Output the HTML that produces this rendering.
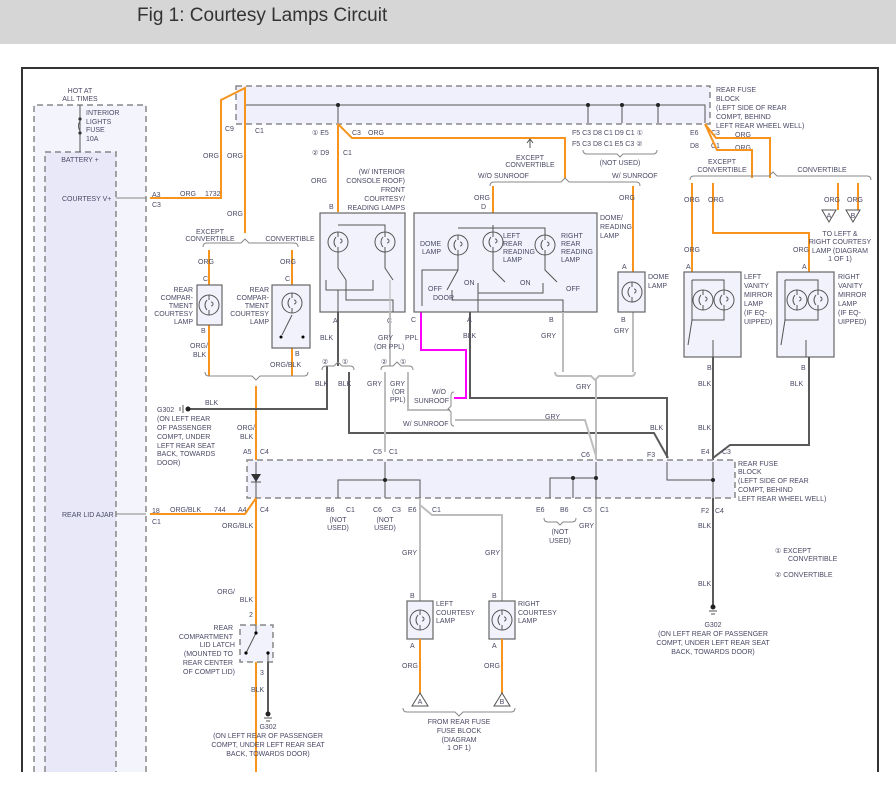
<!DOCTYPE html>
<html><head><style>
body{margin:0;width:896px;height:803px;background:#fff;overflow:hidden;font-family:"Liberation Sans",sans-serif}
#hd{position:absolute;left:0;top:0;width:896px;height:44px;background:#d6d6d6}
#hd span{position:absolute;left:137px;top:5px;font-size:19px;color:#333}
svg{position:absolute;left:0;top:0}
text{font-family:"Liberation Sans",sans-serif;font-size:7px;fill:#4a4a66}
.o{stroke:#f7941d;stroke-width:2;fill:none}
.g{stroke:#bdbdbd;stroke-width:2;fill:none}
.k{stroke:#5a5a5a;stroke-width:2;fill:none}
.m{stroke:#ff00ff;stroke-width:2;fill:none}
.t{stroke:#555;stroke-width:1;fill:none}
.b{stroke:#888;stroke-width:1;fill:none}
.d{stroke:#888;stroke-width:1.5;stroke-dasharray:6,4}
.bx{fill:#f2f2fc;stroke:#666;stroke-width:1.2}
.r{text-anchor:end}.c{text-anchor:middle}
</style></head><body>
<div id="hd"><span>Fig 1: Courtesy Lamps Circuit</span></div>
<svg width="896" height="803" viewBox="0 0 896 803">
<defs>
<g id="lamp"><circle r="10" fill="none" stroke="#555" stroke-width="1"/><path d="M0,-10 v5 M0,10 v-5 M-2,-5 q-4,5 0,10 M2,-3 a2,2 0 1,1 0,4" stroke="#555" fill="none" stroke-width="1"/></g>
</defs>
<!-- frame -->
<path d="M22,772 V68 H878 V772" fill="none" stroke="#333" stroke-width="2"/>
<!-- battery boxes -->
<rect x="34" y="105" width="112" height="667" fill="#f4f4fd"/>
<path d="M34,772 V105 H146 V772" fill="none" class="d"/>
<rect x="45" y="152" width="71" height="620" fill="#e8e8f8"/>
<path d="M45,772 V152 H116 V772" fill="none" class="d"/>
<text x="80" y="93" class="c">HOT AT</text><text x="80" y="101" class="c">ALL TIMES</text>
<path d="M80,105 V152" class="t"/><circle cx="80" cy="119" r="1.6" fill="#333"/><circle cx="80" cy="133" r="1.6" fill="#333"/>
<path d="M80,121 q-3,5 0,10" class="t"/>
<text x="86" y="115">INTERIOR</text><text x="86" y="124">LIGHTS</text><text x="86" y="132">FUSE</text><text x="86" y="141">10A</text>
<text x="80" y="162" class="c">BATTERY +</text>
<text x="62" y="201">COURTESY V+</text><path d="M116,198 H146" class="b"/>
<text x="62" y="517">REAR LID AJAR</text><path d="M116,514 H146" class="b"/>
<text x="152" y="197">A3</text><text x="152" y="207">C3</text>
<text x="152" y="513">18</text><text x="152" y="524">C1</text>
<!-- top fuse block -->
<rect x="236" y="86" width="474" height="38" fill="#f0f0fc" class="d"/>
<path d="M245,123 V105 H705 V123 M338,105 V123 M588,105V123 M622,105V123 M658,105V123" class="t"/>
<g fill="#222"><circle cx="338" cy="105" r="2"/><circle cx="588" cy="105" r="2"/><circle cx="622" cy="105" r="2"/><circle cx="658" cy="105" r="2"/></g>
<text x="716" y="92">REAR FUSE</text><text x="716" y="101">BLOCK</text><text x="716" y="110">(LEFT SIDE OF REAR</text><text x="716" y="119">COMPT, BEHIND</text><text x="716" y="128">LEFT REAR WHEEL WELL)</text>
<text x="225" y="131">C9</text><text x="255" y="133">C1</text>
<text x="312" y="135">① E5</text><text x="352" y="135">C3</text><text x="368" y="135">ORG</text>
<text x="312" y="155">② D9</text><text x="343" y="155">C1</text>
<text x="572" y="135">F5  C3  D8  C1  D9  C1 ①</text><text x="572" y="146">F5  C3  D8  C1  E5  C3 ②</text>
<text x="620" y="165" class="c">(NOT USED)</text>
<path d="M583,150 q0,4 4,4 h30 l3,3 3,-3 h30 q4,0 4,-4" class="b"/>
<text x="690" y="135">E6</text><text x="711" y="135">C3</text><text x="735" y="137">ORG</text>
<text x="690" y="148">D8</text><text x="711" y="148">C1</text><text x="735" y="150">ORG</text>
<!-- left orange -->
<path d="M150,198 H221 V100 L245,88 V233" class="o"/>
<path d="M245,124 V233" class="o"/>
<text x="180" y="196">ORG</text><text x="205" y="196">1732</text>
<text x="203" y="158">ORG</text><text x="227" y="158">ORG</text><text x="227" y="216">ORG</text>
<path d="M203,247 q0,-4 4,-4 h34 l4,-4 4,4 h45 q4,0 4,4" class="b"/>
<text x="210" y="234" class="c">EXCEPT</text><text x="210" y="241" class="c">CONVERTIBLE</text><text x="290" y="241" class="c">CONVERTIBLE</text>
<path d="M209,250 V285 M292,250 V285 M209,325 V376 M292,348 V376" class="o"/>
<text x="198" y="264">ORG</text><text x="280" y="264">ORG</text>
<text x="203" y="281">C</text><text x="285" y="281">C</text><text x="201" y="333">B</text><text x="295" y="356">B</text>
<rect x="197" y="285" width="25" height="40" class="bx"/><use href="#lamp" x="209" y="305"/>
<rect x="272" y="285" width="38" height="63" class="bx"/><use href="#lamp" x="292" y="303"/>
<path d="M292,315 l-10,20" class="t"/><circle cx="281" cy="337" r="1.5"/><circle cx="303" cy="337" r="1.5"/>
<g class="r"><text x="193" y="292">REAR</text><text x="193" y="300">COMPAR-</text><text x="193" y="308">TMENT</text><text x="193" y="316">COURTESY</text><text x="193" y="324">LAMP</text>
<text x="269" y="292">REAR</text><text x="269" y="300">COMPAR-</text><text x="269" y="308">TMENT</text><text x="269" y="316">COURTESY</text><text x="269" y="324">LAMP</text></g>
<text x="190" y="348">ORG/</text><text x="193" y="357">BLK</text><text x="270" y="367">ORG/BLK</text>
<path d="M205,372 q0,4 4,4 h43 l4,4 4,-4 h44 q4,0 4,-4" class="b"/>
<path d="M256,386 V772" class="o"/>
<text x="237" y="430">ORG/</text><text x="240" y="439">BLK</text>
<!-- G302 left -->
<path d="M327,366 V409 H190" class="k"/><circle cx="188" cy="409" r="2.5" fill="#222"/><path d="M183,405 v8 M180,407 v4" class="t"/>
<text x="205" y="405">BLK</text>
<text x="157" y="412">G302</text><text x="157" y="421">(ON LEFT REAR</text><text x="157" y="430">OF PASSENGER</text><text x="157" y="439">COMPT, UNDER</text><text x="157" y="448">LEFT REAR SEAT</text><text x="157" y="456">BACK, TOWARDS</text><text x="157" y="465">DOOR)</text>
<!-- front lamps -->
<path d="M338,124 L352,138 H565 V178" class="o"/><path d="M338,124 V212" class="o"/>
<path d="M530,148 V140" class="t"/><path d="M527,143 l3,-4 3,4" class="t"/>
<text x="530" y="160" class="c">EXCEPT</text><text x="530" y="167" class="c">CONVERTIBLE</text>
<text x="327" y="183" class="r">ORG</text>
<g class="r"><text x="405" y="174">(W/ INTERIOR</text><text x="405" y="183">CONSOLE ROOF)</text><text x="405" y="192">FRONT</text><text x="405" y="201">COURTESY/</text><text x="405" y="210">READING LAMPS</text></g>
<text x="329" y="209">B</text>
<rect x="320" y="213" width="85" height="99" class="bx"/>
<use href="#lamp" x="338" y="242"/><use href="#lamp" x="385" y="242"/>
<path d="M338,225 H385 V232 M338,252 V268 L346,280 M385,252 V268 L393,280 M326,280 V290 H373 V280 M338,290 V312 M346,280 V300 H393 V312" class="t"/>
<path d="M390,280 V312" class="g" style="stroke-width:1.2"/>
<text x="333" y="323">A</text><text x="387" y="323">C</text>
<path d="M338,312 V366 M390,312 V366" class="k"/><path d="M390,312 V366" class="g"/>
<text x="320" y="340">BLK</text><text x="378" y="340">GRY</text><text x="374" y="349">(OR PPL)</text><text x="405" y="340">PPL</text>
<path d="M322,370 q0,-4 4,-4 h8 l4,-4 4,4 h8 q4,0 4,4" class="b"/><path d="M381,370 q0,-4 4,-4 h8 l4,-4 4,4 h8 q4,0 4,4" class="b"/>
<text x="322" y="364">②</text><text x="342" y="364">①</text><text x="381" y="364">②</text><text x="400" y="364">①</text>
<path d="M349,372 V433 H654 L668,458" class="k"/>
<text x="315" y="386">BLK</text><text x="338" y="386">BLK</text>
<path d="M385,372 V452" class="g"/><path d="M408,372 V410 H450" class="g"/>
<text x="367" y="386">GRY</text><text x="390" y="386">GRY</text><text x="392" y="394">(OR</text><text x="390" y="402">PPL)</text>
<path d="M421,312 V350 H466 V398 H454" class="m"/>
<path d="M454,392 q-3,0 -3,4 v10 l-3,3 3,3 v10 q0,4 3,4" class="b"/>
<text x="432" y="394">W/O</text><text x="414" y="403">SUNROOF</text><text x="403" y="426">W/ SUNROOF</text>
<path d="M455,420 H585 L596,456" class="g"/><text x="545" y="419">GRY</text>
<!-- dome/reading -->
<path d="M490,186 q0,-4 4,-4 h67 l4,-4 4,4 h67 q4,0 4,4" class="b"/>
<text x="478" y="178">W/O SUNROOF</text><text x="612" y="178">W/ SUNROOF</text>
<path d="M493,186 V213 M633,186 V272" class="o"/>
<text x="474" y="200">ORG</text><text x="481" y="209">D</text><text x="619" y="200">ORG</text>
<rect x="414" y="213" width="183" height="99" class="bx"/>
<text x="600" y="220">DOME/</text><text x="600" y="229">READING</text><text x="600" y="238">LAMP</text>
<use href="#lamp" x="458" y="245"/><use href="#lamp" x="493" y="242"/><use href="#lamp" x="545" y="245"/>
<path d="M458,228 H545 V235 M493,225 V232 M458,255 V270 L447,290 M493,252 V270 L505,282 M545,255 V270 L557,282 M422,306 V270 H458 M452,290 V300 H563 V312 M478,283 V312 M478,293 H543 V283" class="t"/>
<path d="M470,312 V398 H667 V458" class="k"/>
<path d="M563,312 V372 M633,312 V372 M555,372 q0,4 4,4 h32 l4,4 4,-4 h32 q4,0 4,-4 M596,380 V772" class="g"/>
<text x="420" y="246">DOME</text><text x="422" y="254">LAMP</text>
<text x="503" y="238">LEFT</text><text x="503" y="246">REAR</text><text x="503" y="254">READING</text><text x="503" y="262">LAMP</text>
<text x="561" y="238">RIGHT</text><text x="561" y="246">REAR</text><text x="561" y="254">READING</text><text x="561" y="262">LAMP</text>
<text x="428" y="291">OFF</text><text x="464" y="285">ON</text><text x="520" y="285">ON</text><text x="566" y="291">OFF</text><text x="433" y="300">DOOR</text>
<text x="411" y="322">C</text><text x="467" y="322">A</text><text x="549" y="322">B</text>
<text x="463" y="338">BLK</text><text x="541" y="338">GRY</text>
<rect x="618" y="272" width="27" height="40" class="bx"/><use href="#lamp" x="632" y="292"/>
<text x="648" y="279">DOME</text><text x="648" y="288">LAMP</text><text x="622" y="269">A</text><text x="621" y="322">B</text><text x="614" y="333">GRY</text>
<text x="576" y="389">GRY</text>
<!-- right orange -->
<path d="M705,124 L716,138 H770 V178 M705,124 L717,150 H752 V178" class="o"/>
<path d="M690,180 q0,-4 4,-4 h75 l4,-4 4,4 h90 q4,0 4,4" class="b"/>
<text x="722" y="164" class="c">EXCEPT</text><text x="722" y="172" class="c">CONVERTIBLE</text><text x="822" y="172" class="c">CONVERTIBLE</text>
<path d="M692,183 V272 M713,183 V233 H809 V272 M838,183 V210 M858,183 V210" class="o"/>
<text x="684" y="202">ORG</text><text x="708" y="202">ORG</text><text x="684" y="252">ORG</text><text x="793" y="252">ORG</text>
<text x="824" y="202">ORG</text><text x="847" y="202">ORG</text>
<path d="M822,210 h14 l-7,12 z M846,210 h14 l-7,12 z" fill="#fff" stroke="#555"/>
<text x="829" y="218" class="c">A</text><text x="853" y="218" class="c">B</text>
<g class="c"><text x="840" y="236">TO LEFT &amp;</text><text x="840" y="244">RIGHT COURTESY</text><text x="840" y="253">LAMP (DIAGRAM</text><text x="840" y="261">1 OF 1)</text></g>
<text x="686" y="269">A</text><text x="802" y="269">A</text>
<rect x="684" y="272" width="57" height="85" class="bx"/><rect x="777" y="272" width="57" height="85" class="bx"/>
<use href="#lamp" x="703" y="300"/><use href="#lamp" x="724" y="300"/><use href="#lamp" x="797" y="300"/><use href="#lamp" x="818" y="300"/>
<path d="M692,280 H724 V290 M692,280 V320 H724 V310 M692,320 L688,345 M713,340 V357 M785,280 H818 V290 M785,280 V320 H818 V310 M785,320 L781,345 M806,340 V357" class="t"/>
<text x="744" y="279">LEFT</text><text x="744" y="288">VANITY</text><text x="744" y="297">MIRROR</text><text x="744" y="306">LAMP</text><text x="744" y="315">(IF EQ-</text><text x="744" y="324">UIPPED)</text>
<text x="838" y="279">RIGHT</text><text x="838" y="288">VANITY</text><text x="838" y="297">MIRROR</text><text x="838" y="306">LAMP</text><text x="838" y="315">(IF EQ-</text><text x="838" y="324">UIPPED)</text>
<path d="M713,357 V460 M809,357 V445 H730 L713,458" class="k"/>
<text x="707" y="370">B</text><text x="801" y="370">B</text><text x="698" y="386">BLK</text><text x="790" y="386">BLK</text><text x="698" y="430">BLK</text><text x="650" y="430">BLK</text>
<!-- lower fuse block -->
<rect x="247" y="460" width="488" height="38" fill="#f0f0fc" class="d"/>
<path d="M256,462 V498 M385,462 V480 M338,498 V480 H420 V498 M385,480 V498 M596,462 V498 M596,478 H550 V498 M573,478 V498 M667,462 V480 H713 M713,462 V498" class="t"/>
<path d="M251,474 h10 l-5,8 z" fill="#333"/><path d="M251,482 h10" class="t"/>
<g fill="#222"><circle cx="385" cy="480" r="2"/><circle cx="596" cy="478" r="2"/><circle cx="573" cy="478" r="2"/><circle cx="713" cy="480" r="2"/></g>
<text x="243" y="454">A5</text><text x="260" y="454">C4</text><text x="373" y="454">C5</text><text x="389" y="454">C1</text><text x="581" y="457">C6</text><text x="647" y="457">F3</text><text x="701" y="454">E4</text><text x="722" y="454">C3</text>
<text x="738" y="466">REAR FUSE</text><text x="738" y="474">BLOCK</text><text x="738" y="483">(LEFT SIDE OF REAR</text><text x="738" y="492">COMPT, BEHIND</text><text x="738" y="501">LEFT REAR WHEEL WELL)</text>
<text x="238" y="512">A4</text><text x="260" y="512">C4</text>
<text x="326" y="512">B6</text><text x="346" y="512">C1</text><text x="373" y="512">C6</text><text x="392" y="512">C3</text><text x="408" y="512">E6</text><text x="432" y="512">C1</text>
<text x="536" y="512">E6</text><text x="560" y="512">B6</text><text x="583" y="512">C5</text><text x="600" y="512">C1</text>
<text x="701" y="513">F2</text><text x="715" y="513">C4</text>
<text x="338" y="522" class="c">(NOT</text><text x="338" y="530" class="c">USED)</text><text x="385" y="522" class="c">(NOT</text><text x="385" y="530" class="c">USED)</text>
<path d="M544,518 q0,4 4,4 h9 l3,3 3,-3 h9 q4,0 4,-4" class="b"/>
<text x="560" y="534" class="c">(NOT</text><text x="560" y="543" class="c">USED)</text><text x="579" y="528">GRY</text>
<path d="M150,514 H245 L256,498" class="o"/>
<text x="170" y="512">ORG/BLK</text><text x="214" y="512">744</text><text x="222" y="528">ORG/BLK</text>
<path d="M420,498 V601 M420,505 L432,515 H502 V601" class="g"/>
<text x="402" y="555">GRY</text><text x="485" y="555">GRY</text>
<!-- courtesy lamps -->
<rect x="407" y="601" width="26" height="38" class="bx"/><use href="#lamp" x="420" y="620"/>
<rect x="489" y="601" width="26" height="38" class="bx"/><use href="#lamp" x="502" y="620"/>
<text x="410" y="598">B</text><text x="492" y="598">B</text><text x="410" y="648">A</text><text x="492" y="648">A</text>
<text x="436" y="606">LEFT</text><text x="436" y="615">COURTESY</text><text x="436" y="623">LAMP</text>
<text x="518" y="606">RIGHT</text><text x="518" y="615">COURTESY</text><text x="518" y="623">LAMP</text>
<path d="M420,639 V693 M502,639 V693" class="o"/>
<text x="402" y="668">ORG</text><text x="484" y="668">ORG</text>
<path d="M412,706 h16 l-8,-13 z M494,706 h16 l-8,-13 z" fill="#fff" stroke="#555"/>
<text x="420" y="704" class="c">A</text><text x="502" y="704" class="c">B</text>
<path d="M403,708 q0,4 4,4 h48 l4,4 4,-4 h48 q4,0 4,-4" class="b"/>
<g class="c"><text x="459" y="724">FROM REAR FUSE</text><text x="459" y="733">FUSE BLOCK</text><text x="459" y="742">(DIAGRAM</text><text x="459" y="750">1 OF 1)</text></g>
<!-- right ground -->
<path d="M713,498 V605" class="k"/><circle cx="713" cy="607" r="2.5" fill="#222"/><path d="M709,611 h8 M711,614 h4" class="t"/>
<text x="698" y="528">BLK</text><text x="698" y="586">BLK</text>
<g class="c"><text x="713" y="627">G302</text><text x="713" y="636">(ON LEFT REAR OF PASSENGER</text><text x="713" y="645">COMPT, UNDER LEFT REAR SEAT</text><text x="713" y="654">BACK, TOWARDS DOOR)</text></g>
<text x="775" y="553">① EXCEPT</text><text x="788" y="561">CONVERTIBLE</text><text x="775" y="577">② CONVERTIBLE</text>
<!-- latch -->
<text x="235" y="594" class="r">ORG/</text><text x="253" y="602" class="r">BLK</text>
<text x="249" y="617">2</text>
<rect x="240" y="625" width="33" height="37" fill="#f2f2fc" class="d"/>
<path d="M256,625 V632 M256,633 L246,653 M268,654 V662" class="t"/><circle cx="256" cy="633" r="1.6"/><circle cx="246" cy="653" r="1.6"/><circle cx="268" cy="653" r="1.6"/>
<g class="r"><text x="233" y="630">REAR</text><text x="233" y="639">COMPARTMENT</text><text x="235" y="647">LID LATCH</text><text x="233" y="656">(MOUNTED TO</text><text x="233" y="665">REAR CENTER</text><text x="235" y="674">OF COMPT LID)</text></g>
<text x="260" y="675">3</text>
<path d="M268,662 V712" class="k"/><circle cx="268" cy="714" r="2.5" fill="#222"/><path d="M264,718 h8 M266,721 h4" class="t"/>
<text x="251" y="692">BLK</text>
<g class="c"><text x="268" y="729">G302</text><text x="268" y="738">(ON LEFT REAR OF PASSENGER</text><text x="268" y="747">COMPT, UNDER LEFT REAR SEAT</text><text x="268" y="756">BACK, TOWARDS DOOR)</text></g>
</svg>
</body></html>
